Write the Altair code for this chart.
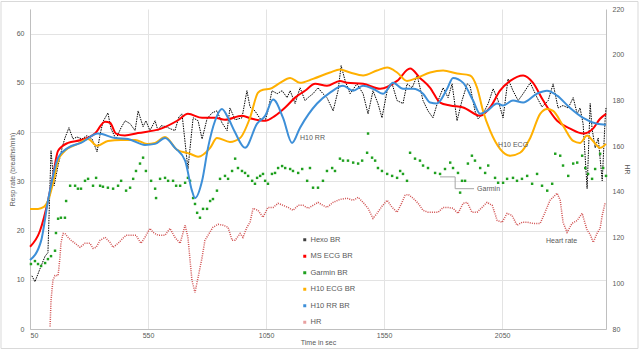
import altair as alt
import pandas as pd

# ---------------- data ----------------
hexo_t = [58,71,92,114,126,139,152,169,186,198, 215,232,249,270,292,313,334,347,359,380,
          393,414,436,453,474,495,508,529,541,558, 580,592,605,626,643,664,681,694,719,741,
          762,779,800,821,842,863,885,897,919,948, 969,982,1003,1025,1046,1058,1075,1097,1118,1139,
          1152,1173,1194,1215,1228,1249,1270,1291,1308,1334, 1355,1368,1385,1406,1435,1461,1482,1503,1524,1541,
          1563,1584,1605,1630,1647,1669,1690,1715,1736,1757, 1779,1800,1821,1838,1859,1880,1902,1914,1935,1948,
          1969,1991,2012,2033,2054,2075,2096,2118,2139,2169, 2198,2219,2245,2266,2287,2308,2330,2351,2368,2380,
          2393,2410,2423,2431,2444,2457,2474,2486,2490]
hexo_v = [10.8,9.6,12.2,14.8,15.5,36.2,29.1,33.2,36.8,38.8, 40.9,38.6,39.0,38.6,39.3,38.6,36.0,39.5,42.1,43.9,
          40.7,38.6,40.9,42.3,41.7,40.3,44.3,41.1,42.3,40.3, 42.3,40.3,41.3,41.1,40.7,40.3,43.1,43.7,32.5,42.9,
          42.3,38.6,42.7,43.9,44.3,41.9,40.3,44.9,42.5,42.9, 48.4,45.1,44.3,42.7,42.3,44.3,48.4,47.8,48.4,47.0,
          48.4,45.8,49.0,46.4,47.0,47.8,49.0,47.8,47.0,44.3, 48.4,53.5,50.4,47.8,49.8,47.8,43.7,48.4,45.8,42.9,
          48.4,49.8,46.4,45.8,49.8,49.0,51.5,46.4,44.3,42.9, 46.4,49.0,47.0,49.8,42.3,46.4,49.8,49.4,44.3,42.7,
          43.7,45.8,48.8,46.4,42.9,50.8,48.4,46.4,47.8,50.0, 47.0,45.1,46.4,49.8,44.9,45.4,44.9,47.0,43.7,44.9,
          41.7,28.5,45.8,40.7,36.8,38.8,30.1,42.3,44.9]

ms_t = [50,92,126,147,169,211,266,325,368,389, 414,452,507,605,677,719,779,834,876,948,
        991,1046,1088,1131,1173,1215,1258,1308,1363,1393, 1461,1533,1605,1660,1702,1745,1787,1830,1885,1957,
        1999,2041,2084,2139,2181,2224,2283,2338,2393,2435, 2465,2490]
ms_v = [16.7,19.9,26.0,31.0,36.2,37.8,38.4,39.7,42.1,41.9, 39.7,39.3,39.8,40.7,42.4,43.7,42.9,42.9,42.5,43.3,
        42.7,42.3,43.3,45.0,47.0,48.4,49.8,49.4,50.4,50.0, 49.8,48.8,50.4,52.9,51.0,49.0,46.0,45.4,45.0,43.3,
        45.0,48.4,50.4,51.5,50.0,46.4,42.3,40.7,39.7,40.7, 42.7,43.7]

garmin_t = [54,71,84,97,114,126,139,156,160,169, 181,198,203,220,241,253,266,283,296,317,
            330,347,359,380,402,423,436,457,474,487, 499,516,529,541,563,580,584,601,622,635,
            656,669,686,707,719,728,741,749,758,770, 783,800,813,825,842,855,876,889,906,919,
            931,948,961,974,991,1003,1012,1025,1037,1046, 1058,1075,1088,1101,1118,1131,1152,1164,1186,1203,
            1224,1236,1249,1270,1291,1308,1330,1342,1363,1376, 1397,1419,1440,1457,1478,1482,1499,1512,1524,1541,
            1563,1584,1605,1618,1630,1647,1660,1681,1702,1715, 1736,1766,1787,1808,1830,1842,1863,1880,1872,1893,
            1905,1922,1935,1957,1978,1991,2020,2033,2054,2071, 2096,2113,2134,2156,2177,2198,2219,2241,2262,2275,
            2296,2308,2330,2351,2368,2389,2402,2414,2431,2444, 2465,2478,2490]
garmin_v = [13.2,13.8,13.2,12.8,13.4,14.2,14.8,15.9,19.5,22.4, 22.6,22.6,26.0,29.1,29.1,28.5,28.5,30.1,30.5,29.1,
            30.7,29.1,28.9,28.7,28.5,29.1,30.1,28.1,28.7,30.5, 32.1,33.6,34.8,32.1,30.1,28.5,26.6,30.5,30.7,30.1,
            30.1,29.1,29.1,29.7,30.7,30.1,26.6,25.4,23.6,22.6, 24.4,24.4,26.0,26.4,28.1,30.5,31.1,30.5,32.1,34.6,
            32.7,32.1,31.7,31.1,30.1,29.5,30.7,31.1,31.5,30.1, 29.5,31.5,31.7,32.7,33.1,32.7,32.5,32.1,31.7,32.5,
            30.1,32.7,28.7,28.7,30.1,32.1,32.7,32.1,34.6,34.2, 34.2,33.8,33.6,34.2,35.8,39.7,34.8,34.2,32.7,32.1,
            31.5,31.1,30.7,32.1,31.5,30.1,35.8,34.6,34.2,33.2, 32.7,31.7,31.5,32.5,33.8,32.7,31.7,30.1,27.7,30.1,
            33.6,35.2,34.2,32.7,31.7,33.2,30.7,29.7,29.7,30.5, 30.7,30.1,30.5,31.1,29.5,31.5,29.1,28.1,29.5,35.6,
            35.2,33.2,31.1,33.6,33.8,35.2,32.7,31.5,30.5,32.5, 35.6,32.7,31.1]

h10ecg_t = [50,84,109,126,147,169,198,253,296,334, 380,436,495,546,580,622,673,728,762,813,
            842,897,940,982,1016,1037,1067,1109,1152,1194, 1249,1321,1363,1406,1461,1520,1563,1605,1647,1690,
            1745,1800,1859,1914,1944,1969,1999,2041,2084,2126, 2169,2211,2241,2266,2308,2351,2380,2410,2435,2465,
            2490]
h10ecg_v = [24.4,24.4,24.8,26.0,29.5,34.2,36.2,37.6,38.6,37.2, 38.2,38.4,38.4,37.6,37.8,39.0,36.4,35.6,35.0,36.8,
            38.8,38.0,38.8,42.9,48.0,48.6,48.8,50.0,51.0,50.0, 50.8,52.1,52.7,52.1,51.5,52.5,53.1,52.1,50.4,51.0,
            52.1,52.5,51.9,51.5,49.0,44.3,40.3,36.6,35.2,35.8, 38.8,43.7,44.7,44.3,41.3,38.2,37.8,39.3,38.2,36.8,
            37.6]

h10rr_t = [50,97,126,169,211,266,338,410,465,537, 580,622,664,707,736,749,779,804,834,863,
           889,919,961,1012,1046,1080,1122,1160,1194,1266, 1321,1376,1419,1461,1503,1546,1588,1630,1673,1715,
           1745,1774,1817,1842,1885,1927,1957,1986,2029,2054, 2096,2139,2198,2240,2283,2338,2393,2452,2490]
h10rr_v = [14.0,17.9,26.0,34.8,36.8,37.8,39.7,38.8,38.6,37.4, 37.6,38.8,36.8,34.2,28.1,26.6,30.1,36.8,42.3,44.7,
           42.9,39.9,36.8,41.7,43.3,46.6,42.9,37.8,40.9,45.8, 48.0,49.4,48.4,49.4,48.8,47.8,50.0,48.8,48.8,47.8,
           46.0,45.8,48.8,51.0,50.0,46.4,43.7,44.3,45.8,45.4, 46.4,46.0,47.8,48.4,47.4,44.9,42.9,41.7,41.5]

hr_t = [135,139,147,156,169,177,181,190,198,211, 224,241,262,283,304,317,330,347,368,389,
        402,423,444,457,478,499,520,537,558,571, 592,622,643,664,686,707,719,736,749,762,
        779,791,804,825,847,868,889,906,919,940, 952,969,982,995,1016,1037,1058,1080,1101,1122,
        1143,1164,1186,1207,1228,1249,1270,1291,1308,1334, 1363,1393,1419,1440,1461,1482,1503,1520,1541,1563,
        1584,1605,1626,1639,1652,1673,1694,1715,1736,1757, 1779,1800,1821,1842,1863,1885,1902,1922,1944,1965,
        1986,2008,2029,2050,2071,2092,2113,2135,2156,2181, 2211,2232,2253,2283,2296,2308,2325,2346,2368,2389,
        2410,2423,2436,2452,2465,2474,2486]
hr_v = [81.1,92.5,101.3,103.4,103.4,111.3,117.5,121.8,121.8,120.1, 118.8,117.5,115.7,117.5,117.5,115.3,115.7,118.8,120.1,117.9,
        115.7,117.5,119.7,121.0,121.0,121.0,117.5,120.1,124.0,122.3, 121.0,121.0,124.0,120.1,117.5,125.4,120.1,101.3,96.0,102.6,
        111.3,118.8,121.0,124.5,125.8,125.4,124.5,118.8,118.8,121.8, 120.1,124.5,126.7,132.8,131.9,128.9,133.2,133.2,135.0,134.1,
        133.2,131.9,134.1,134.1,132.8,134.1,135.4,134.1,133.2,135.4, 136.7,137.2,136.3,137.6,135.4,132.8,128.4,130.6,133.7,136.3,
        133.2,131.1,135.4,138.5,138.9,137.2,135.0,131.9,131.1,131.1, 131.1,133.2,133.2,132.8,130.6,135.0,135.4,131.1,131.1,133.2,
        135.4,134.1,127.5,126.7,130.6,129.7,125.4,126.7,126.7,126.2, 126.2,131.1,136.3,139.4,136.3,126.7,122.3,126.2,127.5,130.6,
        123.2,121.4,117.9,121.8,124.0,129.7,135.0]

series_names = ["Hexo BR", "MS ECG BR", "Garmin BR", "H10 ECG BR", "H10 RR BR", "HR"]
legend_colors = ["#404040", "#FF0000", "#1FA01F", "#FFB000", "#3D8FD8", "#E8A0A0"]

label_text = ["H10 RR", "H10 ECG", "Garmin", "Heart rate"]
label_t = [1194, 2033, 1944, 2236]
label_v = [38.8, 37.4, 28.5, 17.9]

leader_t = [1787, 1851, 1851, 1931]
leader_v = [30.9, 30.9, 28.5, 28.5]

x_ticks = [50, 550, 1050, 1550, 2050]
yl_ticks = [0, 10, 20, 30, 40, 50, 60]
yr_ticks = [80, 100, 120, 140, 160, 180, 200, 220]

# ---------------- styling ----------------
FONT = "Liberation Sans"
GREY = "#595959"
FS = 7

x_enc = alt.X("t:Q",
              scale=alt.Scale(domain=[50, 2490], nice=False, zero=False),
              axis=alt.Axis(values=x_ticks, format="d", title="Time in sec", grid=True, gridColor="#E3E3E3",
                            domainColor="#BFBFBF", ticks=False, labelPadding=2, titlePadding=0,
                            labelFontSize=FS, titleFontSize=FS, titleFontWeight="normal",
                            labelColor=GREY, titleColor=GREY, labelFont=FONT, titleFont=FONT))

yl_enc = alt.Y("v:Q",
               scale=alt.Scale(domain=[0, 65], nice=False),
               axis=alt.Axis(values=yl_ticks, title="Resp rate (breaths/min)", grid=True, gridColor="#E3E3E3",
                             domainColor="#BFBFBF", ticks=False, labelPadding=6, titlePadding=1,
                             labelFontSize=FS, titleFontSize=FS, titleFontWeight="normal",
                             labelColor=GREY, titleColor=GREY, labelFont=FONT, titleFont=FONT))

yr_enc = alt.Y("v:Q",
               scale=alt.Scale(domain=[80, 220], nice=False, zero=False),
               axis=alt.Axis(values=yr_ticks, title="HR", orient="right", grid=False,
                             domainColor="#BFBFBF", ticks=False, labelPadding=6, titlePadding=0,
                             labelFontSize=FS, titleFontSize=FS, titleFontWeight="normal",
                             labelColor=GREY, titleColor=GREY, labelFont=FONT, titleFont=FONT))


def df(t, v, name):
    return pd.DataFrame({"t": t, "v": v, "series": name})


border = alt.Chart(pd.DataFrame({"d": [0]})).mark_rect(
    fill="transparent", stroke="#D9D9D9", strokeWidth=1
).encode(x=alt.value(-29), x2=alt.value(608), y=alt.value(-7.5), y2=alt.value(339.5))

hexo = alt.Chart(df(hexo_t, hexo_v, "Hexo BR")).mark_line(
    color="#000000", strokeWidth=1, strokeDash=[1.5, 1]
).encode(x=x_enc, y=yl_enc)

garmin = alt.Chart(df(garmin_t, garmin_v, "Garmin BR")).mark_square(
    size=6, opacity=1
).encode(
    x=x_enc, y=yl_enc,
    color=alt.Color("series:N",
                    scale=alt.Scale(domain=series_names, range=legend_colors),
                    legend=alt.Legend(title=None, orient="none", legendX=271, legendY=227,
                                      symbolType="square", symbolSize=9, labelFontSize=7.5,
                                      labelColor=GREY, labelFont=FONT, rowPadding=7.5,
                                      labelOffset=2)))

ms = alt.Chart(df(ms_t, ms_v, "MS ECG BR")).mark_line(
    color="#FF0000", strokeWidth=2, interpolate="monotone"
).encode(x=x_enc, y=yl_enc)

h10ecg = alt.Chart(df(h10ecg_t, h10ecg_v, "H10 ECG BR")).mark_line(
    color="#FFB000", strokeWidth=2, interpolate="monotone"
).encode(x=x_enc, y=yl_enc)

h10rr = alt.Chart(df(h10rr_t, h10rr_v, "H10 RR BR")).mark_line(
    color="#3D8FD8", strokeWidth=2, interpolate="monotone"
).encode(x=x_enc, y=yl_enc)

labels = alt.Chart(pd.DataFrame({"t": label_t, "v": label_v, "txt": label_text})).mark_text(
    align="left", baseline="middle", fontSize=FS, font=FONT, color=GREY
).encode(x=x_enc, y=yl_enc, text="txt:N")

leader = alt.Chart(pd.DataFrame({"t": leader_t, "v": leader_v, "i": list(range(len(leader_t)))})).mark_line(
    color="#A6A6A6", strokeWidth=1
).encode(x=x_enc, y=yl_enc, order="i:Q")

left = alt.layer(border, hexo, garmin, ms, h10ecg, h10rr, leader, labels)

hr = alt.Chart(df(hr_t, hr_v, "HR")).mark_line(
    color="#C83030", strokeWidth=1.5, strokeDash=[1, 1.2], opacity=0.85
).encode(x=x_enc, y=yr_enc)

chart = alt.layer(left, hr).resolve_scale(y="independent").properties(
    width=576, height=320,
    autosize=alt.AutoSizeParams(type="none"),
    padding={"left": 30, "top": 9, "right": 33, "bottom": 21},
    background="white",
).configure_view(stroke="transparent")

chart.save("out.html", embed_options={"renderer": "svg", "actions": False})
